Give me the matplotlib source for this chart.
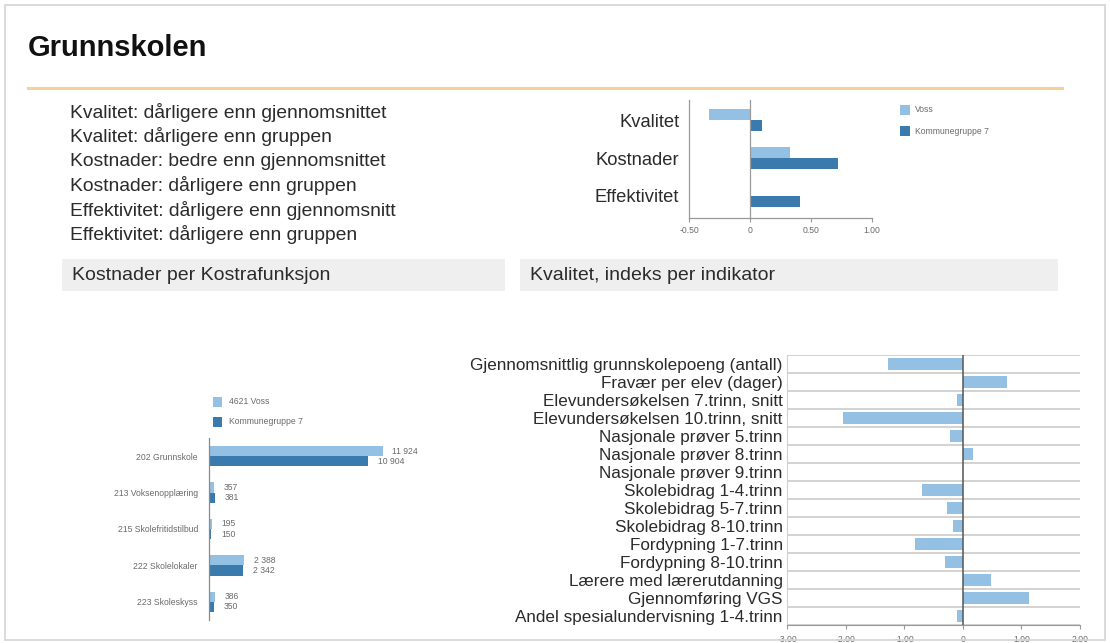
import matplotlib
matplotlib.use("Agg")
import matplotlib.pyplot as plt
import numpy as np
from matplotlib.patches import Rectangle
from matplotlib.lines import Line2D

plt.rcParams['font.family'] = ['Liberation Sans', 'DejaVu Sans']

W, H = 1110, 643

# --- data -------------------------------------------------------------
title = "Grunnskolen"
summary_lines = [
    "Kvalitet: dårligere enn gjennomsnittet",
    "Kvalitet: dårligere enn gruppen",
    "Kostnader: bedre enn gjennomsnittet",
    "Kostnader: dårligere enn gruppen",
    "Effektivitet: dårligere enn gjennomsnitt",
    "Effektivitet: dårligere enn gruppen",
]

index_categories = ["Kvalitet", "Kostnader", "Effektivitet"]
index_voss = [-0.34, 0.33, 0.0]
index_group = [0.10, 0.72, 0.41]
index_ticks = [-0.5, 0.0, 0.5, 1.0]
index_ticklabels = ["-0.50", "0", "0.50", "1.00"]
index_legend = ["Voss", "Kommunegruppe 7"]

cost_categories = ["202 Grunnskole", "213 Voksenopplæring", "215 Skolefritidstilbud",
                   "222 Skolelokaler", "223 Skoleskyss"]
cost_voss = [11924, 357, 195, 2388, 386]
cost_group = [10904, 381, 150, 2342, 350]
cost_legend = ["4621 Voss", "Kommunegruppe 7"]

quality_indicators = [
    "Gjennomsnittlig grunnskolepoeng (antall)",
    "Fravær per elev (dager)",
    "Elevundersøkelsen 7.trinn, snitt",
    "Elevundersøkelsen 10.trinn, snitt",
    "Nasjonale prøver 5.trinn",
    "Nasjonale prøver 8.trinn",
    "Nasjonale prøver 9.trinn",
    "Skolebidrag 1-4.trinn",
    "Skolebidrag 5-7.trinn",
    "Skolebidrag 8-10.trinn",
    "Fordypning 1-7.trinn",
    "Fordypning 8-10.trinn",
    "Lærere med lærerutdanning",
    "Gjennomføring VGS",
    "Andel spesialundervisning 1-4.trinn",
]
quality_values = [-1.28, 0.75, -0.10, -2.04, -0.21, 0.18, 0.0, -0.70, -0.27,
                  -0.16, -0.82, -0.31, 0.48, 1.13, -0.10]
quality_ticks = [-3, -2, -1, 0, 1, 2]
quality_ticklabels = ["-3.00", "-2.00", "-1.00", "0", "1.00", "2.00"]

LIGHT = "#93c0e3"
DARK = "#3b7aad"
TEXT = "#2b2b2b"
SMALL = "#6a6a6a"
TINY = 6.2


def rect(x0, y0, x1, y1):
    """Pixel box (from top-left) to figure fraction rect."""
    return [x0 / W, 1 - y1 / H, (x1 - x0) / W, (y1 - y0) / H]


def fx(x):
    return x / W


def fy(y):
    return 1 - y / H


fig = plt.figure(figsize=(W / 100, H / 100), dpi=100)
fig.patch.set_facecolor("white")

# page frame
fig.add_artist(Rectangle((fx(5), fy(640)), fx(1100), (635) / H, transform=fig.transFigure,
                         fill=False, edgecolor="#d4d4d4", linewidth=1.2))

# title and rule
fig.text(fx(28), fy(48), title, fontsize=21, fontweight="bold", color="#111111",
         va="center", ha="left")
fig.add_artist(Line2D([fx(28), fx(1062)], [fy(88), fy(88)], transform=fig.transFigure,
                      color="#f5d19c", linewidth=2.2))

# summary text
for i, line in enumerate(summary_lines):
    fig.text(fx(70), fy(112 + i * 24.6), line, fontsize=13.9, color=TEXT,
             va="center", ha="left")

# section headers
for (x0, x1, label) in [(62, 505, "Kostnader per Kostrafunksjon"),
                        (520, 1058, "Kvalitet, indeks per indikator")]:
    fig.add_artist(Rectangle((fx(x0), fy(291)), (x1 - x0) / W, 32 / H,
                             transform=fig.transFigure, facecolor="#efefef",
                             edgecolor="none"))
    fig.text(fx(x0 + 10), fy(275), label, fontsize=14.0, color=TEXT,
             va="center", ha="left")

# --- index chart (top right) -----------------------------------------
ax1 = fig.add_axes(rect(689, 100, 872, 218))
y1 = np.arange(len(index_categories))
bh = 0.29
ax1.barh(y1 - bh / 2, index_voss, height=bh, color=LIGHT, edgecolor="none")
ax1.barh(y1 + bh / 2, index_group, height=bh, color=DARK, edgecolor="none")
ax1.set_xlim(-0.5, 1.0)
ax1.set_ylim(2.58, -0.53)
ax1.axvline(0, color="#9a9a9a", linewidth=0.9)
ax1.set_yticks(y1)
ax1.set_yticklabels(index_categories, fontsize=13.2, color=TEXT)
ax1.tick_params(axis="y", length=0, pad=7)
ax1.set_xticks(index_ticks)
ax1.set_xticklabels(index_ticklabels, fontsize=TINY, color=SMALL)
ax1.tick_params(axis="x", length=3, color="#999999", pad=3)
for s in ["top", "right"]:
    ax1.spines[s].set_visible(False)
for s in ["left", "bottom"]:
    ax1.spines[s].set_color("#999999")
    ax1.spines[s].set_linewidth(0.9)

for i, (lab, col) in enumerate(zip(index_legend, [LIGHT, DARK])):
    yy = 110 + i * 21
    fig.add_artist(Rectangle((fx(900), fy(yy + 5)), 10 / W, 10 / H,
                             transform=fig.transFigure, facecolor=col, edgecolor="none"))
    fig.text(fx(915), fy(yy), lab, fontsize=TINY, color=SMALL, va="center", ha="left")

# --- cost chart (bottom left) ----------------------------------------
ax2 = fig.add_axes(rect(209, 438, 413, 620))
y2 = np.arange(len(cost_categories))
bh2 = 0.28
b_v = ax2.barh(y2 - bh2 / 2, cost_voss, height=bh2, color=LIGHT, edgecolor="none")
b_g = ax2.barh(y2 + bh2 / 2, cost_group, height=bh2, color=DARK, edgecolor="none")
ax2.set_xlim(0, 14000)
ax2.set_ylim(4.5, -0.5)
ax2.set_yticks(y2)
ax2.set_yticklabels(cost_categories, fontsize=TINY, color=SMALL)
ax2.tick_params(axis="y", length=0, pad=8)
ax2.set_xticks([])
for s in ["top", "right", "bottom"]:
    ax2.spines[s].set_visible(False)
ax2.spines["left"].set_color("#8a8a8a")
ax2.spines["left"].set_linewidth(0.9)


def fmt(v):
    return f"{v:,}".replace(",", " ")


for bars, vals in [(b_v, cost_voss), (b_g, cost_group)]:
    for bar, v in zip(bars, vals):
        ax2.annotate(fmt(v), (v, bar.get_y() + bar.get_height() / 2),
                     xytext=(7, 0), textcoords="offset points",
                     fontsize=TINY, color=SMALL, va="center", ha="left")

for i, (lab, col) in enumerate(zip(cost_legend, [LIGHT, DARK])):
    yy = 402 + i * 20
    fig.add_artist(Rectangle((fx(213), fy(yy + 5)), 9 / W, 10 / H,
                             transform=fig.transFigure, facecolor=col, edgecolor="none"))
    fig.text(fx(229), fy(yy), lab, fontsize=TINY, color=SMALL, va="center", ha="left")

# --- quality indicator chart (bottom right) ----------------------------
ax3 = fig.add_axes(rect(787, 355, 1080, 625))
y3 = np.arange(len(quality_indicators))
ax3.barh(y3, quality_values, height=0.62, color=LIGHT, edgecolor="none", zorder=2)
ax3.set_xlim(-3, 2)
ax3.set_ylim(len(quality_indicators) - 0.5, -0.5)
for k in np.arange(-0.5, len(quality_indicators), 1.0):
    ax3.axhline(k, color="#cfcfcf", linewidth=1.3, zorder=1)
ax3.axvline(0, color="#555555", linewidth=1.1, zorder=3)
ax3.set_yticks(y3)
ax3.set_yticklabels(quality_indicators, fontsize=12.3, color=TEXT)
ax3.tick_params(axis="y", length=0, pad=3)
ax3.set_xticks(quality_ticks)
ax3.set_xticklabels(quality_ticklabels, fontsize=TINY, color=SMALL)
ax3.tick_params(axis="x", length=3, color="#999999", pad=4)
for s in ["top", "right"]:
    ax3.spines[s].set_visible(False)
ax3.spines["left"].set_color("#d0d0d0")
ax3.spines["bottom"].set_color("#999999")

fig.savefig("out.png", dpi=100, facecolor="white")
